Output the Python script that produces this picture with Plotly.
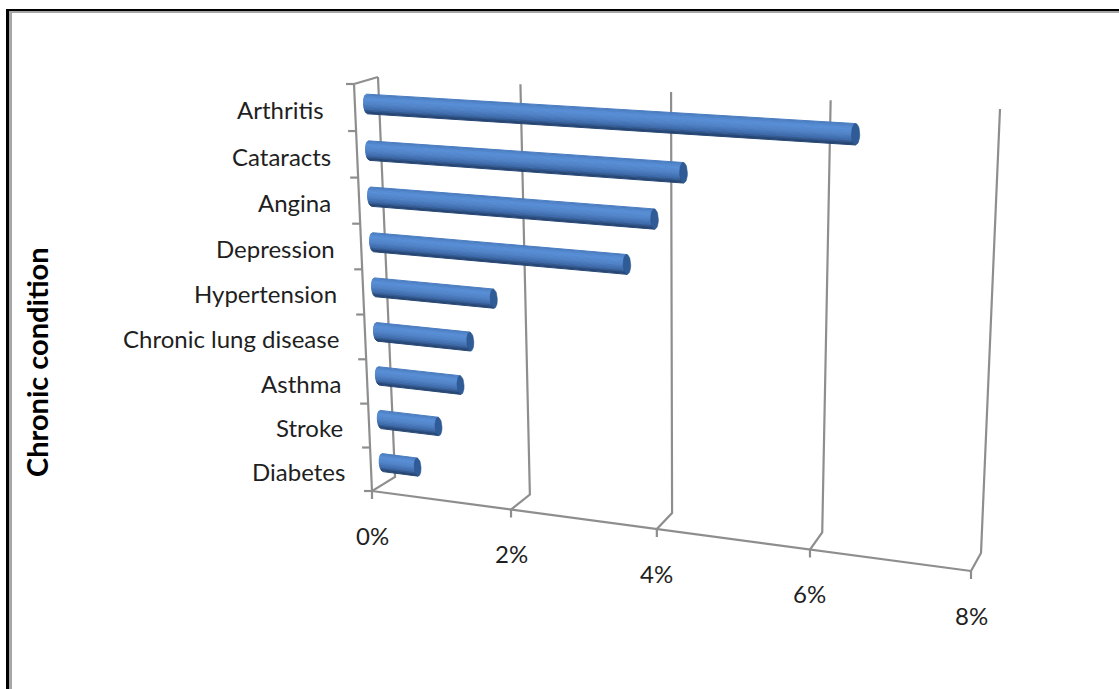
import numpy as np
import plotly.graph_objects as go

# Chart data
conditions = ["Arthritis", "Cataracts", "Angina", "Depression", "Hypertension",
              "Chronic lung disease", "Asthma", "Stroke", "Diabetes"]
prevalence = [6.42, 4.28, 3.9, 3.53, 1.7, 1.35, 1.19, 0.85, 0.52]
value_ticks = [0, 2, 4, 6, 8]
value_tick_labels = ["0%", "2%", "4%", "6%", "8%"]
axis_title = "Chronic condition"

W, H = 1119, 689
V_MAX = 8.0
N_LEVELS = len(conditions)


def homography(src, dst):
    """Solve the 3x3 plane homography taking four src points to four dst points."""
    rows, rhs = [], []
    for (a, b), (u, v) in zip(src, dst):
        rows.append([a, b, 1, 0, 0, 0, -u * a, -u * b])
        rows.append([0, 0, 0, a, b, 1, -v * a, -v * b])
        rhs += [u, v]
    return np.append(np.linalg.solve(np.array(rows, float), np.array(rhs, float)), 1).reshape(3, 3)


# Perspective box: (value, level) maps onto the front and back planes of the chart.
box = [(0, 0), (V_MAX, 0), (0, N_LEVELS), (V_MAX, N_LEVELS)]
FRONT = homography(box, [(372, 491), (971, 571), (354, 84), (981, 124)])
BACK = homography(box, [(395, 477), (981, 553), (378, 77), (1000, 109)])


def project(value, level, depth):
    """Map chart coordinates to the drawing plane; depth 0 is the front, 1 the back."""
    p = np.array([value, level, 1.0])
    f = FRONT @ p
    b = BACK @ p
    f, b = f[:2] / f[2], b[:2] / b[2]
    return f + (b - f) * depth


fig = go.Figure()


def add_line(points, color="#8e8e8e", width=2.2):
    xs = [p[0] for p in points]
    ys = [p[1] for p in points]
    fig.add_trace(go.Scatter(x=xs, y=ys, mode="lines", hoverinfo="skip",
                             line=dict(color=color, width=width)))


# Box frame: gridlines on the back wall, floor edges, axes and tick marks
for v in value_ticks:
    back_top = project(v, N_LEVELS, 1)
    back_bottom = project(v, 0, 1)
    front_bottom = project(v, 0, 0)
    add_line([back_top, back_bottom, front_bottom, front_bottom + np.array([0, 8])])
add_line([project(0, 0, 0), project(V_MAX, 0, 0)])
add_line([project(0, N_LEVELS, 1), project(0, N_LEVELS, 0), project(0, 0, 0)])
for k in range(N_LEVELS + 1):
    tick_end = project(0, k, 0)
    add_line([tick_end, tick_end + np.array([-8, 0])])

# Cylinder shading, top edge to bottom edge
shade_stops = [(0.0, (72, 122, 188)), (0.25, (90, 144, 216)), (0.55, (80, 130, 198)),
               (0.8, (62, 106, 168)), (1.0, (34, 62, 104))]
N_STRIPS = 12
RADIUS = 0.21
BAR_DEPTH = 0.5
CAP_VALUE = 0.05


def shade(frac):
    ts = [s[0] for s in shade_stops]
    rgb = [np.interp(frac, ts, [s[1][c] for s in shade_stops]) for c in range(3)]
    return "rgb(%d,%d,%d)" % tuple(rgb)


offsets = np.linspace(1, -1, N_STRIPS + 1)


def bulge(f):
    return CAP_VALUE * np.sqrt(max(0.0, 1 - f * f))


for i in range(N_STRIPS):
    xs, ys = [], []
    f0, f1 = offsets[i], offsets[i + 1]
    for name, value in zip(conditions, prevalence):
        level = N_LEVELS - conditions.index(name) - 0.5
        corners = [project(-bulge(f0), level + RADIUS * f0, BAR_DEPTH),
                   project(value, level + RADIUS * f0, BAR_DEPTH),
                   project(value, level + RADIUS * f1, BAR_DEPTH),
                   project(-bulge(f1), level + RADIUS * f1, BAR_DEPTH)]
        xs += [c[0] for c in corners] + [corners[0][0], None]
        ys += [c[1] for c in corners] + [corners[0][1], None]
    col = shade((i + 0.5) / N_STRIPS)
    fig.add_trace(go.Scatter(x=xs, y=ys, mode="lines", fill="toself", fillcolor=col,
                             hoverinfo="skip", line=dict(color=col, width=1)))

# End caps of the cylinders
theta = np.linspace(0, 2 * np.pi, 40)
for name, value in zip(conditions, prevalence):
    level = N_LEVELS - conditions.index(name) - 0.5
    outline = [project(value + CAP_VALUE * np.cos(t), level + RADIUS * np.sin(t), BAR_DEPTH) for t in theta]
    fig.add_trace(go.Scatter(x=[p[0] for p in outline], y=[p[1] for p in outline],
                             mode="lines", fill="toself", fillcolor="#2f5c96", hoverinfo="skip",
                             line=dict(color="#2b5389", width=0.6)))

FONT = "Lato, Carlito, Calibri, sans-serif"
TEXT_COLOR = "#1f1f1f"
LABEL_NUDGE = {"Arthritis": -5, "Angina": -2}
annotations = []
for name in conditions:
    level = N_LEVELS - conditions.index(name) - 0.5
    anchor = project(0, level, 0)
    annotations.append(dict(x=anchor[0] - 24 + LABEL_NUDGE.get(name, 0), y=anchor[1] + 2, text=name,
                            showarrow=False, xanchor="right", yanchor="middle",
                            font=dict(family=FONT, size=24, color=TEXT_COLOR)))
for v, label in zip(value_ticks, value_tick_labels):
    anchor = project(v, 0, 0)
    annotations.append(dict(x=anchor[0], y=anchor[1] + 44, text=label, showarrow=False,
                            xanchor="center", yanchor="middle",
                            font=dict(family=FONT, size=24, color=TEXT_COLOR)))
annotations.append(dict(x=36, y=362, text="<b>%s</b>" % axis_title, showarrow=False, textangle=-90,
                        xanchor="center", yanchor="middle",
                        font=dict(family=FONT, size=29, color="#000000")))


def band(x0, x1, y0, y1, color):
    return dict(type="rect", x0=x0, x1=x1, y0=y0, y1=y1, line=dict(width=0), fillcolor=color)


# Page frame: black outer rule with a grey inner rule, open at the right and bottom
frame = [
    band(6, 9, 9, H, "#000000"),
    band(6, W, 9, 11, "#000000"),
    band(9, 12, 11, H, "#a6a6a6"),
    band(9, W, 11, 13, "#a6a6a6"),
]

fig.update_layout(
    width=W, height=H, margin=dict(l=0, r=0, t=0, b=0),
    paper_bgcolor="white", plot_bgcolor="white", showlegend=False,
    xaxis=dict(range=[0, W], visible=False, fixedrange=True),
    yaxis=dict(range=[H, 0], visible=False, fixedrange=True),
    annotations=annotations, shapes=frame,
)

fig.write_html("out.html")
